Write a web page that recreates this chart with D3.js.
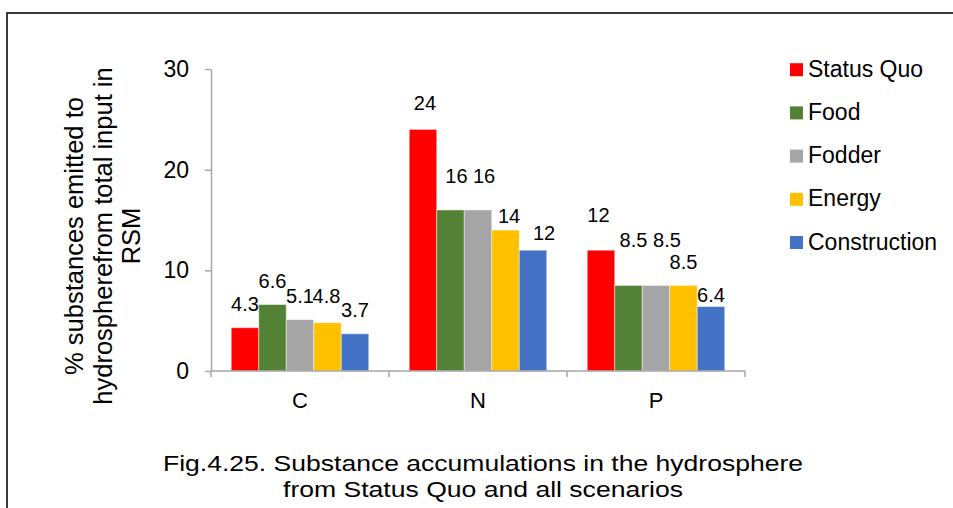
<!DOCTYPE html>
<html>
<head>
<meta charset="utf-8">
<script src="https://cdn.jsdelivr.net/npm/d3@7"></script>
<style>
  html, body { margin: 0; padding: 0; background: #fff; }
  svg { display: block; font-family: "Liberation Sans", Arial, sans-serif; }
</style>
</head>
<body>
<svg id="chart" width="953" height="508"></svg>
<script>
// Substances (categories along the x axis)
const categories = ["C", "N", "P"];

// Scenarios (one bar per scenario in every category)
const scenarios = ["Status Quo", "Food", "Fodder", "Energy", "Construction"];
const scenarioColors = ["#FF0000", "#538135", "#A5A5A5", "#FFC000", "#4472C4"];

// % of total input emitted to the hydrosphere, per substance, in scenario order
const valuesC = [4.3, 6.6, 5.1, 4.8, 3.7];
const valuesN = [24, 16, 16, 14, 12];
const valuesP = [12, 8.5, 8.5, 8.5, 6.4];

const yTicks = [0, 10, 20, 30];

const yTitleLines = ["% substances emitted to", "hydrospherefrom total input in", "RSM"];
const captionLines = [
  "Fig.4.25. Substance accumulations in the hydrosphere",
  "from Status Quo and all scenarios"
];

// Hand-placed nudges [dx, dy] for the value labels so the crowded ones stay readable
const labelNudge = {
  C: [[0, 0], [0, 0], [0, 0], [-1, -3], [0, 0]],
  N: [[2, -2], [6, -10], [6, -10], [3.5, 10], [11, 7]],
  P: [[-2.5, -11], [5, -21], [11, -21], [0, 1], [0, 12.5]]
};

const valuesBySubstance = { C: valuesC, N: valuesN, P: valuesP };
const rows = categories.map(c => ({
  category: c,
  bars: scenarios.map((s, i) => ({ scenario: s, value: valuesBySubstance[c][i], nudge: labelNudge[c][i] }))
}));

const svg = d3.select("#chart");

// Frame around the figure
svg.append("path")
  .attr("d", "M7,508 V13 H953")
  .attr("fill", "none")
  .attr("stroke", "#3a3a3a")
  .attr("stroke-width", 2);

const plot = { left: 211, right: 745, top: 69, bottom: 371 };
const axisColor = "#A6A6A6";

const y = d3.scaleLinear().domain([0, 30]).range([plot.bottom, plot.top]);
const x0 = d3.scaleBand().domain(categories).range([plot.left, plot.right]).paddingInner(0).paddingOuter(0);
const x1 = d3.scaleBand().domain(scenarios).range([0, x0.bandwidth()]).paddingInner(0).paddingOuter(0.736);
const color = d3.scaleOrdinal().domain(scenarios).range(scenarioColors);

// Y axis
const yAxis = svg.append("g")
  .attr("transform", `translate(${plot.left},0)`)
  .call(d3.axisLeft(y).tickValues(yTicks).tickSize(6).tickPadding(16).tickSizeOuter(0));
yAxis.select(".domain").attr("stroke", axisColor).attr("stroke-width", 1.5);
yAxis.selectAll(".tick line").attr("stroke", axisColor).attr("stroke-width", 1.5);
yAxis.selectAll(".tick text")
  .attr("font-size", 23)
  .attr("fill", "#000")
  .attr("font-family", "Liberation Sans, Arial, sans-serif");

// Bars
const groups = svg.append("g").selectAll("g")
  .data(rows)
  .join("g")
  .attr("transform", d => `translate(${x0(d.category)},0)`);

groups.selectAll("rect")
  .data(d => d.bars)
  .join("rect")
  .attr("x", d => x1(d.scenario))
  .attr("width", x1.bandwidth())
  .attr("y", d => y(d.value))
  .attr("height", d => y(0) - y(d.value))
  .attr("fill", d => color(d.scenario))
  .attr("stroke", "rgba(255,255,255,0.45)")
  .attr("stroke-width", 1);

// Value labels
groups.selectAll("text")
  .data(d => d.bars)
  .join("text")
  .attr("x", d => x1(d.scenario) + x1.bandwidth() / 2 + d.nudge[0])
  .attr("y", d => y(d.value) - 17 + d.nudge[1])
  .attr("text-anchor", "middle")
  .attr("font-size", 20)
  .attr("fill", "#000")
  .text(d => d3.format("~g")(d.value));

// X axis: baseline with ticks at the category boundaries
const xAxis = svg.append("g");
xAxis.append("line")
  .attr("x1", plot.left).attr("x2", plot.right)
  .attr("y1", y(0)).attr("y2", y(0))
  .attr("stroke", axisColor).attr("stroke-width", 1.5);
const boundaries = [x0(categories[0])].concat(categories.map(c => x0(c) + x0.bandwidth()));
xAxis.selectAll("line.tick")
  .data(boundaries)
  .join("line")
  .attr("class", "tick")
  .attr("x1", d => d).attr("x2", d => d)
  .attr("y1", y(0)).attr("y2", y(0) + 6)
  .attr("stroke", axisColor).attr("stroke-width", 1.5);
xAxis.selectAll("text")
  .data(categories)
  .join("text")
  .attr("x", d => x0(d) + x0.bandwidth() / 2)
  .attr("y", y(0) + 37)
  .attr("text-anchor", "middle")
  .attr("font-size", 22)
  .attr("fill", "#000")
  .text(d => d);

// Y axis title (three lines, rotated)
const yTitle = svg.append("g").attr("transform", "translate(0,236) rotate(-90)");
yTitle.selectAll("text")
  .data(yTitleLines)
  .join("text")
  .attr("x", 0)
  .attr("y", (d, i) => 83 + i * 28.5)
  .attr("text-anchor", "middle")
  .attr("font-size", 25.5)
  .attr("fill", "#000")
  .text(d => d);

// Legend
const legend = svg.append("g").attr("transform", "translate(790,0)");
const legendRows = legend.selectAll("g")
  .data(scenarios)
  .join("g")
  .attr("transform", (d, i) => `translate(0,${76.7 + i * 43.2})`);
legendRows.append("rect")
  .attr("x", 0).attr("y", -13.5)
  .attr("width", 13).attr("height", 13)
  .attr("fill", d => color(d));
legendRows.append("text")
  .attr("x", 18).attr("y", 0)
  .attr("font-size", 23)
  .attr("fill", "#000")
  .text(d => d);

// Figure caption: two tightly set lines, glyphs widened to the caption's full measure
const captionWidths = [640, 400];
svg.append("g").selectAll("text")
  .data(captionLines)
  .join("text")
  .attr("x", 483)
  .attr("y", (d, i) => 471 + i * 25.5)
  .attr("text-anchor", "middle")
  .attr("font-size", 22.5)
  .attr("textLength", (d, i) => captionWidths[i])
  .attr("lengthAdjust", "spacingAndGlyphs")
  .attr("fill", "#000")
  .text(d => d);
</script>
</body>
</html>
